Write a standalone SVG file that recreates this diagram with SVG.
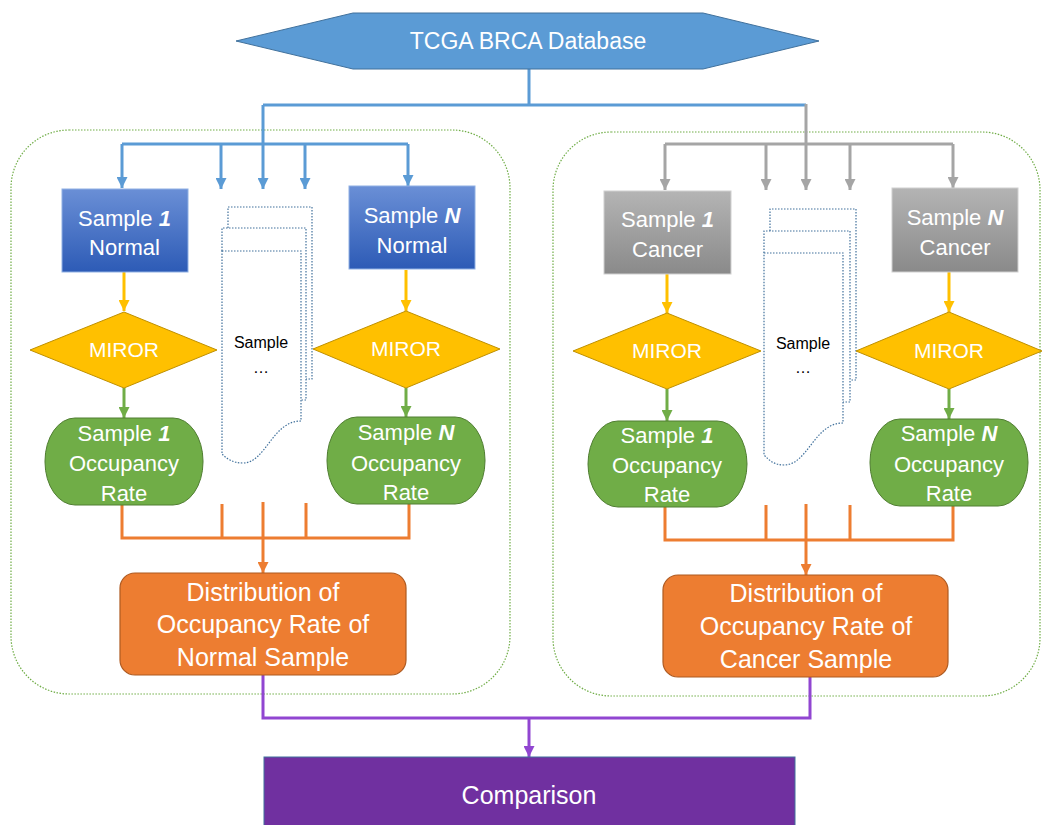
<svg xmlns="http://www.w3.org/2000/svg" width="1043" height="825" viewBox="0 0 1043 825">
<defs>
<linearGradient id="gBlue" x1="0" y1="0" x2="0" y2="1"><stop offset="0" stop-color="#6a8fd6"/><stop offset="1" stop-color="#2d5bb6"/></linearGradient>
<linearGradient id="gGray" x1="0" y1="0" x2="0" y2="1"><stop offset="0" stop-color="#b4b4b4"/><stop offset="1" stop-color="#8a8a8a"/></linearGradient>
<marker id="aBlue" viewBox="0 0 10 10" refX="10" refY="5" markerWidth="11" markerHeight="11" markerUnits="userSpaceOnUse" orient="auto"><path d="M0,0 L10,5 L0,10 z" fill="#5b9bd5"/></marker>
<marker id="aGray" viewBox="0 0 10 10" refX="10" refY="5" markerWidth="11" markerHeight="11" markerUnits="userSpaceOnUse" orient="auto"><path d="M0,0 L10,5 L0,10 z" fill="#a5a5a5"/></marker>
<marker id="aYellow" viewBox="0 0 10 10" refX="10" refY="5" markerWidth="11" markerHeight="11" markerUnits="userSpaceOnUse" orient="auto"><path d="M0,0 L10,5 L0,10 z" fill="#ffc000"/></marker>
<marker id="aGreen" viewBox="0 0 10 10" refX="10" refY="5" markerWidth="11" markerHeight="11" markerUnits="userSpaceOnUse" orient="auto"><path d="M0,0 L10,5 L0,10 z" fill="#70ad47"/></marker>
<marker id="aOrange" viewBox="0 0 10 10" refX="10" refY="5" markerWidth="11" markerHeight="11" markerUnits="userSpaceOnUse" orient="auto"><path d="M0,0 L10,5 L0,10 z" fill="#ed7d31"/></marker>
<marker id="aPurple" viewBox="0 0 10 10" refX="10" refY="5" markerWidth="11" markerHeight="11" markerUnits="userSpaceOnUse" orient="auto"><path d="M0,0 L10,5 L0,10 z" fill="#9146d1"/></marker>
<style>
text{font-family:"Liberation Sans",Arial,sans-serif;fill:#fff;text-anchor:middle}
.s{font-size:22px}
.m{font-size:21px}
.d{font-size:25px}
.k{font-size:16px;fill:#000}
.panel{fill:none;stroke:#70ad47;stroke-width:1.2;stroke-dasharray:1.5 1.5}
.doc{fill:#fff;stroke:#41719c;stroke-width:1.2;stroke-dasharray:1.5 1.5}
.bx{fill:url(#gBlue);stroke:#8fb0e3;stroke-width:1}
.gx{fill:url(#gGray);stroke:#d0d0d0;stroke-width:1}
.dm{fill:#ffc000;stroke:#bf9000;stroke-width:1}
.gr{fill:#70ad47;stroke:#507e32;stroke-width:1}
.or{fill:#ed7d31;stroke:#ae5a21;stroke-width:1.2}
.c{fill:none;stroke-width:3}
.cb{stroke:#5b9bd5}.cg{stroke:#a5a5a5}.cy{stroke:#ffc000}.cgr{stroke:#70ad47}.co{stroke:#ed7d31}.cp{stroke:#9146d1}
</style>
</defs>

<g id="panel-normal"><rect class="panel" x="11" y="130" width="499" height="564" rx="58" ry="58"/></g>
<g id="panel-cancer"><rect class="panel" x="553" y="132" width="487" height="564" rx="58" ry="58"/></g>

<g id="connectors">
<path class="c cb" d="M529,69 V105 M263,105 H806"/>
<path class="c cb" d="M263,105 V189" marker-end="url(#aBlue)"/>
<path class="c cb" d="M122,144 H408"/>
<path class="c cb" d="M122,144 V188" marker-end="url(#aBlue)"/>
<path class="c cb" d="M221,144 V189" marker-end="url(#aBlue)"/>
<path class="c cb" d="M305,144 V189" marker-end="url(#aBlue)"/>
<path class="c cb" d="M408,144 V186" marker-end="url(#aBlue)"/>
<path class="c cg" d="M806,104 V190" marker-end="url(#aGray)"/>
<path class="c cg" d="M665,144 H953"/>
<path class="c cg" d="M665,144 V190" marker-end="url(#aGray)"/>
<path class="c cg" d="M766,144 V190" marker-end="url(#aGray)"/>
<path class="c cg" d="M850,144 V190" marker-end="url(#aGray)"/>
<path class="c cg" d="M953,144 V188" marker-end="url(#aGray)"/>
<path class="c cy" d="M124,272 V311" marker-end="url(#aYellow)"/>
<path class="c cy" d="M406,270 V311" marker-end="url(#aYellow)"/>
<path class="c cy" d="M667,274 V313" marker-end="url(#aYellow)"/>
<path class="c cy" d="M949,272 V312" marker-end="url(#aYellow)"/>
<path class="c cgr" d="M124,388 V418" marker-end="url(#aGreen)"/>
<path class="c cgr" d="M406,388 V417" marker-end="url(#aGreen)"/>
<path class="c cgr" d="M667,389 V421" marker-end="url(#aGreen)"/>
<path class="c cgr" d="M949,389 V419" marker-end="url(#aGreen)"/>
<path class="c co" d="M122,505 V538 H409 V504 M222,504 V538 M306,503 V538"/>
<path class="c co" d="M263,502 V573" marker-end="url(#aOrange)"/>
<path class="c co" d="M665,507 V540 H953 V506 M766,505 V540 M850,505 V540"/>
<path class="c co" d="M806,504 V575" marker-end="url(#aOrange)"/>
<path class="c cp" d="M263,675 V718 H810 V677"/>
<path class="c cp" d="M529,718 V757" marker-end="url(#aPurple)"/>
</g>

<g id="tcga">
<polygon points="236,41 353,13 703,13 819,41 703,69 353,69" fill="#5b9bd5" stroke="#41719c" stroke-width="1"/>
<text x="528" y="49" style="font-size:23px">TCGA BRCA Database</text>
</g>

<g id="sample1-normal">
<rect class="bx" x="62" y="189" width="126" height="83"/>
<text class="s" x="124.5" y="226">Sample <tspan font-weight="bold" font-style="italic">1</tspan></text>
<text class="s" x="124.5" y="255">Normal</text>
</g>
<g id="sampleN-normal">
<rect class="bx" x="349" y="186" width="126" height="83"/>
<text class="s" x="412" y="223">Sample <tspan font-weight="bold" font-style="italic">N</tspan></text>
<text class="s" x="412" y="253">Normal</text>
</g>
<g id="docs-normal">
<path class="doc" d="M228,228 V207 H312 V379 H306"/>
<path class="doc" d="M222,251 V228 H306 V400 H301"/>
<path class="doc" d="M222,251 H301 V421 C272,421 266,463 243,463 C233,463 227,459 222,454 Z"/>
<text class="k" x="261" y="348">Sample</text>
<text class="k" x="261" y="373">…</text>
</g>
<g id="miror1-normal">
<polygon class="dm" points="30,350 124,312 217,350 124,388"/>
<text class="m" x="124" y="357">MIROR</text>
</g>
<g id="mirorN-normal">
<polygon class="dm" points="313,349 406,311 500,349 406,388"/>
<text class="m" x="406" y="356">MIROR</text>
</g>
<g id="occ1-normal">
<rect class="gr" x="45" y="418" width="158" height="87" rx="30" ry="43"/>
<text class="s" x="124" y="441">Sample <tspan font-weight="bold" font-style="italic">1</tspan></text>
<text class="s" x="124" y="471">Occupancy</text>
<text class="s" x="124" y="501">Rate</text>
</g>
<g id="occN-normal">
<rect class="gr" x="327" y="417" width="158" height="87" rx="30" ry="43"/>
<text class="s" x="406" y="440">Sample <tspan font-weight="bold" font-style="italic">N</tspan></text>
<text class="s" x="406" y="471">Occupancy</text>
<text class="s" x="406" y="500">Rate</text>
</g>
<g id="dist-normal">
<rect class="or" x="120" y="573" width="286" height="102" rx="15" ry="15"/>
<text class="d" x="263" y="601">Distribution of</text>
<text class="d" x="263" y="633">Occupancy Rate of</text>
<text class="d" x="263" y="666">Normal Sample</text>
</g>

<g id="sample1-cancer">
<rect class="gx" x="604" y="191" width="127" height="83"/>
<text class="s" x="667.5" y="227">Sample <tspan font-weight="bold" font-style="italic">1</tspan></text>
<text class="s" x="667.5" y="257">Cancer</text>
</g>
<g id="sampleN-cancer">
<rect class="gx" x="892" y="188" width="126" height="84"/>
<text class="s" x="955" y="225">Sample <tspan font-weight="bold" font-style="italic">N</tspan></text>
<text class="s" x="955" y="255">Cancer</text>
</g>
<g id="docs-cancer">
<path class="doc" d="M770,231 V209 H856 V380 H850"/>
<path class="doc" d="M764,253 V231 H850 V402 H843"/>
<path class="doc" d="M764,253 H843 V423 C814,423 808,465 784,465 C774,465 769,460 764,455 Z"/>
<text class="k" x="803" y="349">Sample</text>
<text class="k" x="803" y="373">…</text>
</g>
<g id="miror1-cancer">
<polygon class="dm" points="573,351 667,313 761,351 667,389"/>
<text class="m" x="667" y="358">MIROR</text>
</g>
<g id="mirorN-cancer">
<polygon class="dm" points="856,351 949,312 1042,351 949,389"/>
<text class="m" x="949" y="358">MIROR</text>
</g>
<g id="occ1-cancer">
<rect class="gr" x="588" y="421" width="159" height="86" rx="30" ry="43"/>
<text class="s" x="667" y="443">Sample <tspan font-weight="bold" font-style="italic">1</tspan></text>
<text class="s" x="667" y="473">Occupancy</text>
<text class="s" x="667" y="502">Rate</text>
</g>
<g id="occN-cancer">
<rect class="gr" x="870" y="419" width="158" height="87" rx="30" ry="43"/>
<text class="s" x="949" y="441">Sample <tspan font-weight="bold" font-style="italic">N</tspan></text>
<text class="s" x="949" y="472">Occupancy</text>
<text class="s" x="949" y="501">Rate</text>
</g>
<g id="dist-cancer">
<rect class="or" x="663" y="575" width="285" height="102" rx="15" ry="15"/>
<text class="d" x="806" y="602">Distribution of</text>
<text class="d" x="806" y="635">Occupancy Rate of</text>
<text class="d" x="806" y="668">Cancer Sample</text>
</g>

<g id="comparison">
<rect x="264" y="757" width="531" height="70" fill="#7030a0" stroke="#41719c" stroke-width="1"/>
<text class="d" x="529" y="804">Comparison</text>
</g>
</svg>
